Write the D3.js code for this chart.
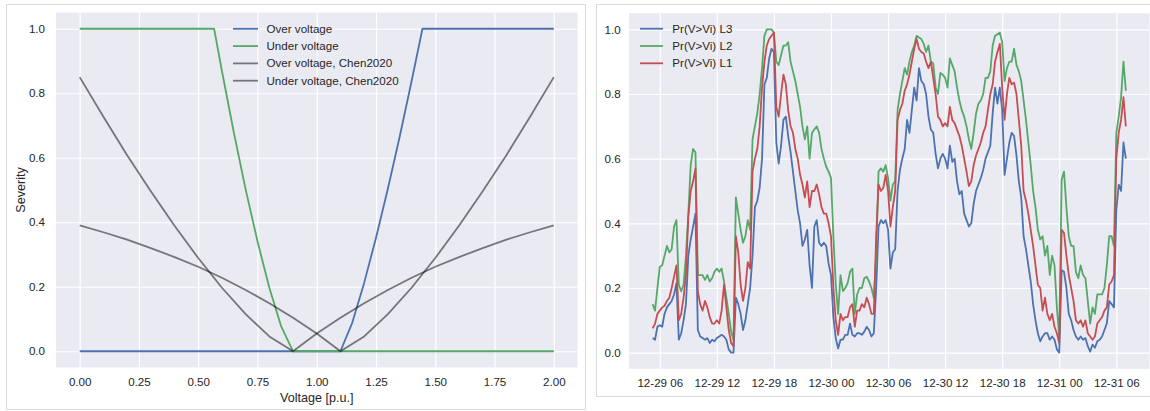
<!DOCTYPE html>
<html>
<head>
<meta charset="utf-8">
<script src="https://cdn.jsdelivr.net/npm/d3@7"></script>
<style>
    body { margin: 0; background: #fff; }
    svg { display: block; }
</style>
</head>
<body>
<div id="app"></div>
<script>
// LEFT PANEL DATA (severity vs voltage)
const voltage = [0.0, 0.1, 0.2, 0.3, 0.4, 0.5, 0.6, 0.7, 0.8, 0.9, 1.0,
    1.1, 1.2, 1.3, 1.4, 1.5, 1.6, 1.7, 1.8, 1.9, 2.0];
const overChen = [0.39, 0.369, 0.346, 0.32, 0.292, 0.262, 0.228, 0.19, 0.149, 0.104, 0.055,
    0.0, 0.046, 0.115, 0.197, 0.289, 0.389, 0.496, 0.608, 0.727, 0.85];
const underChen = [0.85, 0.727, 0.608, 0.496, 0.389, 0.289, 0.197, 0.115, 0.046, 0.0, 0.055,
    0.104, 0.149, 0.19, 0.228, 0.262, 0.292, 0.32, 0.346, 0.369, 0.39];
const overVoltageX = [0.0, 1.1, 1.15, 1.2, 1.25, 1.3, 1.35, 1.4, 1.446, 2.0];
const overSeverity = [0, 0, 0.089, 0.212, 0.352, 0.504, 0.666, 0.837, 1, 1];
const underVoltageX = [0.0, 0.567, 0.6, 0.65, 0.7, 0.75, 0.8, 0.85, 0.9, 2.0];
const underSeverity = [1, 1, 0.869, 0.679, 0.502, 0.341, 0.197, 0.077, 0, 0];
const voltageTicks = [0, 0.25, 0.5, 0.75, 1.0, 1.25, 1.5, 1.75, 2.0];
const severityTicks = [0, 0.2, 0.4, 0.6, 0.8, 1.0];
const leftLegend = ["Over voltage", "Under voltage", "Over voltage, Chen2020", "Under voltage, Chen2020"];

// RIGHT PANEL DATA (15 minute samples from 12-29 05:15)
const timeStart = new Date(2020, 11, 29, 5, 15);
const stepMinutes = 15;
const prL3 = [
    0.045, 0.04, 0.08, 0.085, 0.08, 0.12, 0.14, 0.15, 0.16, 0.18, 0.215, 0.04,
    0.06, 0.1, 0.15, 0.3, 0.35, 0.39, 0.43, 0.07, 0.05, 0.045, 0.04, 0.045,
    0.03, 0.04, 0.035, 0.045, 0.05, 0.055, 0.05, 0.04, 0.01, 0.0, 0.0, 0.17,
    0.15, 0.12, 0.07, 0.1, 0.15, 0.2, 0.3, 0.45, 0.47, 0.51, 0.6, 0.83,
    0.85, 0.91, 0.94, 0.93, 0.65, 0.585, 0.64, 0.72, 0.73, 0.67, 0.62, 0.56,
    0.5, 0.44, 0.4, 0.33, 0.35, 0.38, 0.27, 0.2, 0.39, 0.41, 0.34, 0.33,
    0.34, 0.33, 0.275, 0.24, 0.11, 0.045, 0.013, 0.04, 0.04, 0.055, 0.055, 0.09,
    0.055, 0.05, 0.06, 0.06, 0.055, 0.065, 0.08, 0.07, 0.05, 0.06, 0.2, 0.39,
    0.41, 0.4, 0.41, 0.38, 0.26, 0.31, 0.32, 0.5, 0.565, 0.6, 0.63, 0.72,
    0.68, 0.75, 0.82, 0.78, 0.88, 0.84, 0.83, 0.8, 0.73, 0.69, 0.68, 0.615,
    0.57, 0.6, 0.615, 0.6, 0.57, 0.64, 0.59, 0.6, 0.53, 0.49, 0.5, 0.43,
    0.41, 0.39, 0.4, 0.46, 0.5, 0.52, 0.54, 0.565, 0.6, 0.62, 0.64, 0.74,
    0.82, 0.77, 0.82, 0.75, 0.55, 0.6, 0.65, 0.68, 0.67, 0.61, 0.53, 0.48,
    0.36, 0.32, 0.27, 0.22, 0.15, 0.1, 0.06, 0.035, 0.05, 0.06, 0.06, 0.04,
    0.05, 0.04, 0.01, 0.0, 0.255, 0.25, 0.2, 0.12, 0.1, 0.07, 0.05, 0.04,
    0.05, 0.04, 0.045, 0.02, 0.003, 0.025, 0.015, 0.035, 0.04, 0.05, 0.07, 0.09,
    0.16, 0.15, 0.14, 0.44, 0.52, 0.5, 0.65, 0.6
];
const prL2 = [
    0.15, 0.13, 0.2, 0.265, 0.27, 0.3, 0.33, 0.31, 0.32, 0.39, 0.41, 0.21,
    0.19, 0.21, 0.3, 0.43, 0.58, 0.63, 0.62, 0.24, 0.24, 0.24, 0.225, 0.24,
    0.22, 0.23, 0.25, 0.26, 0.25, 0.26, 0.22, 0.17, 0.12, 0.065, 0.04, 0.48,
    0.43, 0.38, 0.34, 0.36, 0.41, 0.38, 0.66, 0.7, 0.74, 0.8, 0.88, 0.98,
    1.0, 1.0, 1.0, 0.99, 0.9, 0.89, 0.92, 0.95, 0.95, 0.96, 0.9, 0.87,
    0.84, 0.8, 0.76, 0.7, 0.66, 0.7, 0.6, 0.68, 0.69, 0.7, 0.68, 0.63,
    0.6, 0.575, 0.56, 0.54, 0.36, 0.21, 0.12, 0.24, 0.19, 0.2, 0.215, 0.25,
    0.26, 0.12, 0.18, 0.2, 0.2, 0.23, 0.235, 0.22, 0.2, 0.17, 0.3, 0.56,
    0.57, 0.56, 0.58, 0.54, 0.47, 0.52, 0.53, 0.75, 0.8, 0.84, 0.88, 0.86,
    0.9, 0.93, 0.95, 0.98, 0.975, 0.97, 0.955, 0.93, 0.95, 0.9, 0.895, 0.82,
    0.8, 0.865, 0.86, 0.85, 0.82, 0.91, 0.89, 0.87, 0.82, 0.78, 0.75, 0.73,
    0.7, 0.66, 0.63, 0.68, 0.74, 0.77, 0.78, 0.8, 0.85, 0.85, 0.87, 0.95,
    0.98, 0.985, 0.99, 0.96, 0.84, 0.88, 0.9, 0.9, 0.94, 0.89, 0.87, 0.84,
    0.78, 0.72, 0.65, 0.58, 0.5, 0.45, 0.38, 0.35, 0.36, 0.3, 0.33, 0.24,
    0.3, 0.27, 0.14, 0.05, 0.535, 0.56, 0.45, 0.36, 0.33, 0.33, 0.25, 0.23,
    0.27, 0.24, 0.23, 0.16, 0.09, 0.14, 0.12, 0.18, 0.18, 0.18, 0.2, 0.27,
    0.36, 0.36, 0.33, 0.68, 0.73, 0.79, 0.9, 0.81
];
const prL1 = [
    0.075, 0.09, 0.12, 0.13, 0.14, 0.145, 0.16, 0.17, 0.2, 0.235, 0.27, 0.1,
    0.12, 0.17, 0.24, 0.42, 0.5, 0.53, 0.57, 0.19, 0.15, 0.13, 0.16, 0.14,
    0.11, 0.09, 0.09, 0.1, 0.09, 0.13, 0.21, 0.14, 0.07, 0.03, 0.02, 0.36,
    0.31, 0.21, 0.16, 0.2, 0.28, 0.26, 0.56, 0.6, 0.63, 0.7, 0.82, 0.9,
    0.95, 0.97, 0.98, 0.99, 0.76, 0.73, 0.8, 0.86, 0.83, 0.75, 0.7, 0.68,
    0.63, 0.6, 0.55, 0.52, 0.48, 0.53, 0.45, 0.5, 0.5, 0.52, 0.49, 0.45,
    0.43, 0.43, 0.4, 0.36, 0.2, 0.1, 0.055, 0.12, 0.1, 0.11, 0.11, 0.14,
    0.15, 0.08, 0.13, 0.13, 0.15, 0.14, 0.17, 0.15, 0.12, 0.12, 0.36, 0.52,
    0.5, 0.51, 0.55, 0.5, 0.39, 0.45, 0.5, 0.72, 0.75, 0.77, 0.81, 0.83,
    0.86, 0.9, 0.94, 0.97, 0.94, 0.93, 0.925, 0.9, 0.88, 0.9, 0.85, 0.8,
    0.73, 0.72, 0.7, 0.71, 0.7, 0.76, 0.72, 0.71, 0.69, 0.67, 0.64, 0.6,
    0.56, 0.515, 0.53, 0.58, 0.61, 0.63, 0.65, 0.68, 0.7, 0.75, 0.8, 0.83,
    0.9, 0.93, 0.955, 0.82, 0.72, 0.8, 0.85, 0.83, 0.835, 0.8, 0.72, 0.64,
    0.5, 0.47, 0.43, 0.38, 0.33, 0.27, 0.21, 0.2, 0.13, 0.17, 0.12, 0.1,
    0.12, 0.08, 0.06, 0.03, 0.38, 0.37, 0.3, 0.24, 0.2, 0.16, 0.1, 0.09,
    0.1, 0.08, 0.1, 0.06, 0.05, 0.04, 0.05, 0.09, 0.1, 0.11, 0.13, 0.14,
    0.21, 0.22, 0.24, 0.6, 0.68, 0.72, 0.79, 0.7
];
const probTicks = [0, 0.2, 0.4, 0.6, 0.8, 1.0];
const rightLegend = ["Pr(V>Vi) L3", "Pr(V>Vi) L2", "Pr(V>Vi) L1"];

const blue = "#4C72B0";
const green = "#55A868";
const red = "#C44E52";
const gray = "rgba(0,0,0,0.5)";
const bg = "#EAEAF2";
const textColor = "#262626";
const font = '"Liberation Sans", Arial, sans-serif';
const tickSize = 11.6;
const lineW = 1.8;

const width = 1150;
const height = 411;

// left plot box
const lL = 56, lR = 577.5, lT = 12.6, lB = 367.4;
// right plot box
const rL = 629, rR = 1149.5, rT = 13.2, rB = 368.8;

const svg = d3.select("#app")
    .append("svg")
    .attr("width", width)
    .attr("height", height)
    .style("font-family", font);

//CARDS
svg.append("rect")
    .attr("x", 6.5).attr("y", 4.5)
    .attr("width", 579).attr("height", 405)
    .attr("fill", "#fff").attr("stroke", "#dcdcdc");
svg.append("rect")
    .attr("x", 596.5).attr("y", 4.5)
    .attr("width", 570).attr("height", 392)
    .attr("fill", "#fff").attr("stroke", "#dcdcdc");

function styleAxis(g) {
    g.select(".domain").remove();
    g.selectAll(".tick line").attr("stroke", "#fff").attr("stroke-width", 1.2);
    g.selectAll(".tick text")
        .attr("fill", textColor)
        .style("font-size", tickSize + "px")
        .style("font-family", font);
}

//LEFT PANEL
const xV = d3.scaleLinear().domain([-0.1, 2.1]).range([lL, lR]);
const yS = d3.scaleLinear().domain([-0.05, 1.05]).range([lB, lT]);

svg.append("rect")
    .attr("x", lL).attr("y", lT)
    .attr("width", lR - lL).attr("height", lB - lT)
    .attr("fill", bg);

svg.append("g")
    .attr("transform", "translate(0," + lB + ")")
    .call(d3.axisBottom(xV).tickValues(voltageTicks).tickFormat(d3.format(".2f"))
        .tickSize(-(lB - lT)).tickPadding(10))
    .call(styleAxis);
svg.append("g")
    .attr("transform", "translate(" + lL + ",0)")
    .call(d3.axisLeft(yS).tickValues(severityTicks).tickFormat(d3.format(".1f"))
        .tickSize(-(lR - lL)).tickPadding(11))
    .call(styleAxis);

const leftSeries = [
    { xs: overVoltageX, ys: overSeverity, color: blue },
    { xs: underVoltageX, ys: underSeverity, color: green },
    { xs: voltage, ys: overChen, color: gray },
    { xs: voltage, ys: underChen, color: gray }
];
const vLine = d3.line()
    .x(function (d) { return xV(d[0]); })
    .y(function (d) { return yS(d[1]); });

svg.selectAll(".vline")
    .data(leftSeries)
    .enter()
    .append("path")
    .attr("class", "vline")
    .attr("d", function (s) { return vLine(d3.zip(s.xs, s.ys)); })
    .attr("fill", "none")
    .attr("stroke", function (s) { return s.color; })
    .attr("stroke-width", lineW)
    .attr("stroke-linejoin", "round");

svg.append("text")
    .attr("x", (lL + lR) / 2).attr("y", 401.5)
    .attr("text-anchor", "middle")
    .attr("fill", textColor)
    .style("font-size", "12.6px")
    .text("Voltage [p.u.]");
svg.append("text")
    .attr("transform", "translate(24.5," + (lT + lB) / 2 + ") rotate(-90)")
    .attr("text-anchor", "middle")
    .attr("fill", textColor)
    .style("font-size", "12.6px")
    .text("Severity");

//LEFT LEGEND
const leftLegendColors = [blue, green, gray, gray];
const legL = svg.append("g");
leftLegend.forEach(function (name, i) {
    const y = 28.8 + i * 17.3;
    legL.append("line")
        .attr("x1", 233).attr("x2", 258)
        .attr("y1", y).attr("y2", y)
        .attr("stroke", leftLegendColors[i])
        .attr("stroke-width", lineW);
    legL.append("text")
        .attr("x", 266.5).attr("y", y)
        .attr("dy", "0.35em")
        .attr("fill", textColor)
        .style("font-size", tickSize + "px")
        .text(name);
});

//RIGHT PANEL
const times = d3.range(prL3.length).map(function (i) {
    return d3.timeMinute.offset(timeStart, i * stepMinutes);
});
const t0 = times[0];
const t1 = times[times.length - 1];
const pad = (t1 - t0) * 0.05;
const xT = d3.scaleTime()
    .domain([new Date(+t0 - pad), new Date(+t1 + pad)])
    .range([rL, rR]);
const yP = d3.scaleLinear().domain([-0.05, 1.05]).range([rB, rT]);

svg.append("rect")
    .attr("x", rL).attr("y", rT)
    .attr("width", rR - rL).attr("height", rB - rT)
    .attr("fill", bg);

svg.append("g")
    .attr("transform", "translate(0," + rB + ")")
    .call(d3.axisBottom(xT).tickValues(xT.ticks(d3.timeHour.every(6)))
        .tickFormat(d3.timeFormat("%m-%d %H"))
        .tickSize(-(rB - rT)).tickPadding(10))
    .call(styleAxis);
svg.append("g")
    .attr("transform", "translate(" + rL + ",0)")
    .call(d3.axisLeft(yP).tickValues(probTicks).tickFormat(d3.format(".1f"))
        .tickSize(-(rR - rL)).tickPadding(8.3))
    .call(styleAxis);

const rightSeries = [
    { values: prL3, color: blue },
    { values: prL2, color: green },
    { values: prL1, color: red }
];
const tLine = d3.line()
    .x(function (d, i) { return xT(times[i]); })
    .y(function (d) { return yP(d); });

svg.selectAll(".tline")
    .data(rightSeries)
    .enter()
    .append("path")
    .attr("class", "tline")
    .attr("d", function (s) { return tLine(s.values); })
    .attr("fill", "none")
    .attr("stroke", function (s) { return s.color; })
    .attr("stroke-width", lineW)
    .attr("stroke-linejoin", "round");

//RIGHT LEGEND
const legR = svg.append("g");
rightSeries.forEach(function (s, i) {
    const y = 28.7 + i * 17.3;
    legR.append("line")
        .attr("x1", 640).attr("x2", 663)
        .attr("y1", y).attr("y2", y)
        .attr("stroke", s.color)
        .attr("stroke-width", lineW);
    legR.append("text")
        .attr("x", 672.3).attr("y", y)
        .attr("dy", "0.35em")
        .attr("fill", textColor)
        .style("font-size", tickSize + "px")
        .text(rightLegend[i]);
});
</script>
</body>
</html>
